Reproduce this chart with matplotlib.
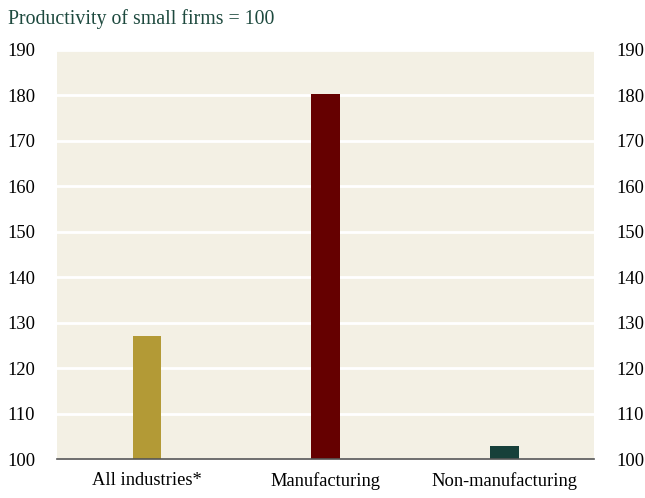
import matplotlib.pyplot as plt
import numpy as np

categories = ['All industries*', 'Manufacturing', 'Non-manufacturing']
values = [127.0, 180.3, 102.9]
colors = ['#b39a36', '#650000', '#17403a']
yticks = [100, 110, 120, 130, 140, 150, 160, 170, 180, 190]

plt.rcParams['font.family'] = ['Liberation Serif', 'DejaVu Serif']

fig = plt.figure(figsize=(6.45, 4.98), dpi=100)
ax = fig.add_axes([0.089, 0.078, 0.832, 0.822])
ax.set_facecolor('#f3f0e4')

x = np.arange(len(categories))
ax.bar(x, np.array(values) - 100, bottom=100, width=0.16, color=colors, zorder=3)

ax.set_xlim(-0.5, 2.5)
ax.set_ylim(100, 190)
ax.set_yticks(yticks)
ax.grid(axis='y', color='white', linewidth=2, zorder=1)
ax.set_xticks(x)
ax.set_xticklabels(categories, fontsize=13.3)

for s in ['top', 'left', 'right']:
    ax.spines[s].set_visible(False)
ax.spines['bottom'].set_color('#555555')
ax.spines['bottom'].set_linewidth(1.2)
ax.spines['bottom'].set_zorder(4)

ax.tick_params(axis='x', length=0, pad=9)
ax.tick_params(axis='y', length=0, labelsize=13.3, pad=16, labelright=True)

fig.text(0.012, 0.962, 'Productivity of small firms = 100', fontsize=14.3,
         color='#1e4a3f', va='center', ha='left')

fig.savefig('out.png')
